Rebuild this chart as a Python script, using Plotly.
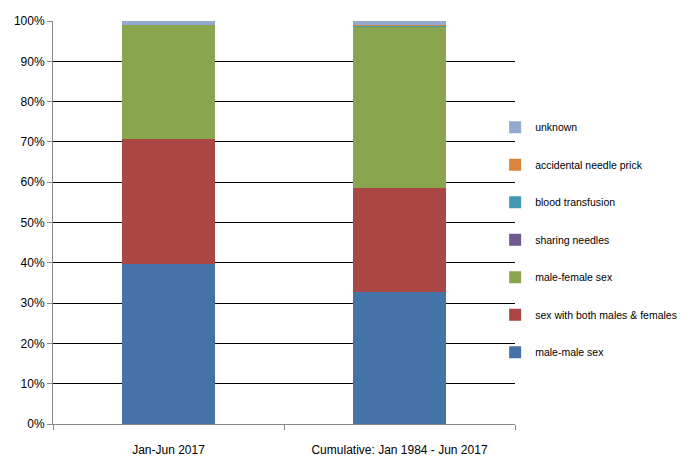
import plotly.graph_objects as go

categories = ["Jan-Jun 2017", "Cumulative: Jan 1984 - Jun 2017"]
series_names = ["male-male sex", "sex with both males & females", "male-female sex",
                "sharing needles", "blood transfusion", "accidental needle prick", "unknown"]
male_male = [39.7, 32.7]
both = [31.0, 25.9]
male_female = [28.3, 40.0]
sharing_needles = [0.0, 0.15]
blood_transfusion = [0.0, 0.15]
accidental_needle = [0.0, 0.2]
unknown = [1.0, 0.9]
colors = ["#4572A7", "#AA4643", "#89A54E", "#71588F", "#4198AF", "#DB843D", "#93A9CF"]
y_ticks = [0, 10, 20, 30, 40, 50, 60, 70, 80, 90, 100]
y_tick_labels = [f"{v}%" for v in y_ticks]

values = [male_male, both, male_female, sharing_needles, blood_transfusion, accidental_needle, unknown]

fig = go.Figure()
n = len(series_names)
for i, (name, vals, col) in enumerate(zip(series_names, values, colors)):
    fig.add_trace(go.Bar(x=categories, y=vals, name=name, marker=dict(color=col, line=dict(width=0)),
                         legendgroup=f"g{i}", legendrank=n - i))

font = "Liberation Sans, Arial, sans-serif"
fig.update_layout(
    barmode="stack",
    bargap=0.6,
    width=678, height=453,
    margin=dict(l=45, r=171, t=13, b=37, autoexpand=False),
    paper_bgcolor="white", plot_bgcolor="white",
    font=dict(family=font, size=12, color="#000"),
    legend=dict(traceorder="grouped", tracegroupgap=18.5, x=0.957, xanchor="left",
                y=0.457, yanchor="middle", font=dict(size=10.5), itemwidth=30,
                bgcolor="rgba(0,0,0,0)"),
    xaxis=dict(showline=True, linecolor="#888", linewidth=1, ticks="outside", tickson="boundaries",
               ticklen=5, tickcolor="#888", tickfont=dict(size=12), ticklabelstandoff=15),
    yaxis=dict(range=[0, 100], tickvals=y_ticks, ticktext=y_tick_labels, showgrid=True,
               gridcolor="#000", gridwidth=1, showline=True, linecolor="#888", linewidth=1,
               ticks="outside", ticklen=5, tickcolor="#888", zeroline=False, tickfont=dict(size=12)),
)
fig.write_html("out.html")
